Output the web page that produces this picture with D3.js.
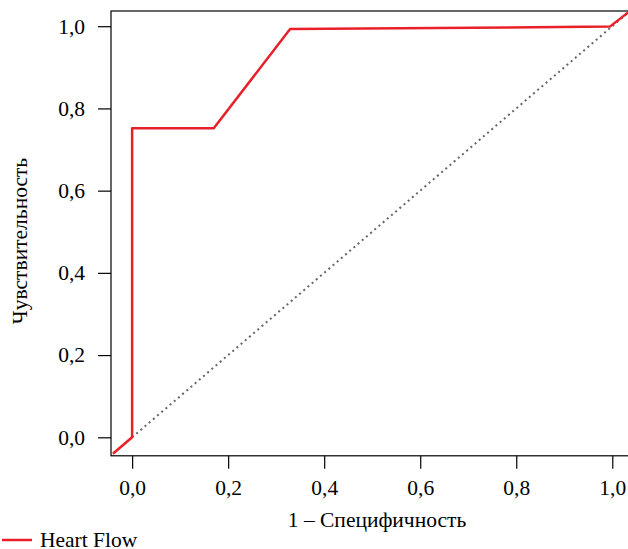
<html>
<head>
  <script src="https://cdn.jsdelivr.net/npm/d3@7/dist/d3.min.js"></script>
</head>
<body style="margin:0">
  <svg id="container" width="628" height="549"></svg>
<script>
  // ROC curve points: [1 - specificity, sensitivity]
  const rocPoints = [
    [-0.04, -0.04],
    [0.0, 0.0],
    [0.0, 0.752],
    [0.17, 0.752],
    [0.329, 0.993],
    [0.995, 0.999],
    [1.04, 1.04]
  ];
  const diagonal = [[0, 0], [1.04, 1.04]];
  const tickValues = [0, 0.2, 0.4, 0.6, 0.8, 1.0];
  const tickLabels = ['0,0', '0,2', '0,4', '0,6', '0,8', '1,0'];
  const seriesName = 'Heart Flow';

  const svg = d3.select('#container');
  const fontFamily = 'Liberation Serif';
  const fontSize = 21.5;

  const x = d3.scaleLinear().domain([-0.044, 1.04]).range([111, 631.5]);
  const y = d3.scaleLinear().domain([-0.045, 1.037]).range([455.8, 11]);

  // axis titles and legend text first
  svg.append('text')
    .attr('x', 377).attr('y', 527)
    .attr('text-anchor', 'middle')
    .attr('font-family', fontFamily).attr('font-size', fontSize)
    .text('1 – Специфичность');

  svg.append('text')
    .attr('transform', 'translate(27, 241) rotate(-90)')
    .attr('text-anchor', 'middle')
    .attr('font-family', fontFamily).attr('font-size', fontSize)
    .text('Чувствительность');

  svg.append('line')
    .attr('x1', 2).attr('x2', 32).attr('y1', 540).attr('y2', 540)
    .attr('stroke', '#e8202a').attr('stroke-width', 2.5);
  svg.append('text')
    .attr('x', 40).attr('y', 547)
    .attr('font-family', fontFamily).attr('font-size', fontSize)
    .text(seriesName);

  // frame (right edge falls outside the window)
  svg.append('rect')
    .attr('x', x(-0.044)).attr('y', y(1.037))
    .attr('width', 560).attr('height', y(-0.045) - y(1.037))
    .attr('fill', 'none').attr('stroke', '#000').attr('stroke-width', 1.2);

  const fmt = (d) => tickLabels[tickValues.indexOf(d)];

  const xAxis = svg.append('g')
    .attr('transform', `translate(0, ${y(-0.045)})`)
    .call(d3.axisBottom(x).tickValues(tickValues).tickFormat(fmt).tickSize(13).tickPadding(11));
  const yAxis = svg.append('g')
    .attr('transform', `translate(${x(-0.044)}, 0)`)
    .call(d3.axisLeft(y).tickValues(tickValues).tickFormat(fmt).tickSize(13).tickPadding(13));

  [xAxis, yAxis].forEach((g) => {
    g.attr('font-family', fontFamily).attr('font-size', fontSize);
    g.select('.domain').remove();
    g.selectAll('.tick line').attr('stroke', '#000').attr('stroke-width', 1.2);
    g.selectAll('.tick text').attr('fill', '#000');
  });

  const line = d3.line().x((d) => x(d[0])).y((d) => y(d[1]));

  svg.append('path')
    .datum(diagonal)
    .attr('d', line)
    .attr('fill', 'none')
    .attr('stroke', '#666')
    .attr('stroke-width', 2)
    .attr('stroke-dasharray', '2,3.5');

  svg.append('path')
    .datum(rocPoints)
    .attr('d', line)
    .attr('fill', 'none')
    .attr('stroke', '#e8202a')
    .attr('stroke-width', 2.5)
    .attr('stroke-linejoin', 'round');
</script>
</body>
</html>
